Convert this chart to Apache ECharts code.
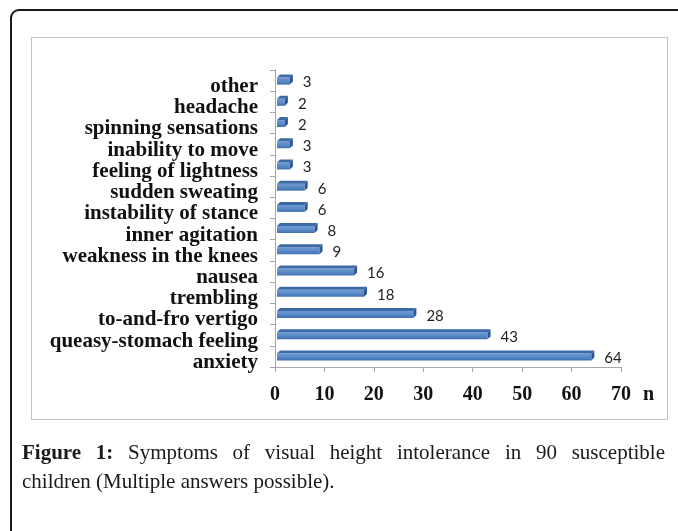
<!DOCTYPE html>
<html>
<head>
<meta charset="utf-8">
<script src="https://cdn.jsdelivr.net/npm/echarts@6/dist/echarts.min.js"></script>
<style>
  body { margin: 0; background: #fff; }
  #page { position: relative; width: 678px; height: 531px; overflow: hidden; }
  #outer { position: absolute; left: 10px; top: 9px; width: 720px; height: 580px;
           border: 2px solid #1a1a1a; border-radius: 9px; }
  #frame { position: absolute; left: 31px; top: 37px; width: 635px; height: 381px;
           border: 1px solid #c4c4c4; }
  #main { position: absolute; left: 0; top: 0; width: 678px; height: 531px; }
  .cap { position: absolute; left: 22px; width: 643px; font-family: "Liberation Serif", serif;
         font-size: 21px; color: #1a1a1a; white-space: nowrap; }
  #cap1 { top: 440px; text-align: justify; text-align-last: justify; white-space: normal; }
  #cap2 { top: 469px; }
</style>
</head>
<body>
<div id="page">
  <div id="outer"></div>
  <div id="frame"></div>
  <div id="main"></div>
  <div class="cap" id="cap1"><b>Figure 1:</b> Symptoms of visual height intolerance in 90 susceptible</div>
  <div class="cap" id="cap2">children (Multiple answers possible).</div>
</div>
<script>
var symptoms = ['other', 'headache', 'spinning sensations', 'inability to move',
  'feeling of lightness', 'sudden sweating', 'instability of stance', 'inner agitation',
  'weakness in the knees', 'nausea', 'trembling', 'to-and-fro vertigo',
  'queasy-stomach feeling', 'anxiety'];
var counts = [3, 2, 2, 3, 3, 6, 6, 8, 9, 16, 18, 28, 43, 64];
var xTicks = [0, 10, 20, 30, 40, 50, 60, 70];

// 3d-looking bar, like the old excel charts
function renderBar(params, api) {
  var idx = api.value(1);
  var val = api.value(0);
  var start = api.coord([0, idx]);
  var end = api.coord([val, idx]);
  var h = 7, d = 3;
  var x0 = start[0] + 2, x1 = end[0];
  var y0 = start[1] - h / 2 + 0.5;
  return {
    type: 'group',
    children: [
      {
        type: 'rect',
        shape: { x: x0, y: y0, width: x1 - x0, height: h },
        style: {
          fill: new echarts.graphic.LinearGradient(0, 0, 0, 1, [
            { offset: 0, color: '#6f9bd2' },
            { offset: 0.5, color: '#5b8bc8' },
            { offset: 1, color: '#3f6fae' }
          ])
        }
      },
      {
        type: 'polygon',
        shape: { points: [[x0, y0], [x1, y0], [x1 + d, y0 - d], [x0 + d, y0 - d]] },
        style: { fill: '#3d6aa6' }
      },
      {
        type: 'polygon',
        shape: { points: [[x1, y0], [x1 + d, y0 - d], [x1 + d, y0 + h - d], [x1, y0 + h]] },
        style: { fill: '#2b5690' }
      },
      {
        type: 'text',
        style: {
          x: x1 + d + 10, y: start[1] + 2,
          text: String(val),
          font: '15px Lato',
          fill: '#222',
          verticalAlign: 'middle'
        }
      }
    ]
  };
}

var chart = echarts.init(document.getElementById('main'), null, { renderer: 'canvas' });

var option = {
  animation: false,
  backgroundColor: 'transparent',
  grid: { left: 275, right: 57, top: 70, bottom: 164, containLabel: false },
  xAxis: {
    type: 'value',
    min: 0,
    max: 70,
    interval: 10,
    axisLine: { show: true, lineStyle: { color: '#a6a6a6', width: 1 } },
    axisTick: { show: true, length: 5, lineStyle: { color: '#a6a6a6' } },
    splitLine: { show: false },
    axisLabel: {
      margin: 18,
      fontFamily: 'Liberation Serif',
      fontWeight: 'bold',
      fontSize: 20,
      color: '#111',
      formatter: function (v) { return xTicks.indexOf(v) >= 0 ? String(v) : ''; }
    }
  },
  yAxis: {
    type: 'category',
    data: symptoms,
    inverse: true,
    axisLine: { show: true, lineStyle: { color: '#a6a6a6', width: 1 } },
    axisTick: { show: true, length: 5, lineStyle: { color: '#a6a6a6' } },
    axisLabel: {
      interval: 0,
      margin: 17,
      formatter: function (v) { return '{t|' + v + '}'; },
      rich: {
        t: {
          fontFamily: 'Liberation Serif',
          fontWeight: 'bold',
          fontSize: 21,
          color: '#111',
          padding: [12, 0, 0, 0]
        }
      }
    }
  },
  graphic: [
    {
      type: 'text',
      left: 643,
      top: 385,
      style: { text: 'n', font: 'bold 20px "Liberation Serif"', fill: '#111' }
    }
  ],
  series: [
    {
      type: 'custom',
      renderItem: renderBar,
      encode: { x: 0, y: 1 },
      data: counts.map(function (v, i) { return [v, i]; }),
      clip: false
    }
  ]
};

chart.setOption(option);
</script>
</body>
</html>
